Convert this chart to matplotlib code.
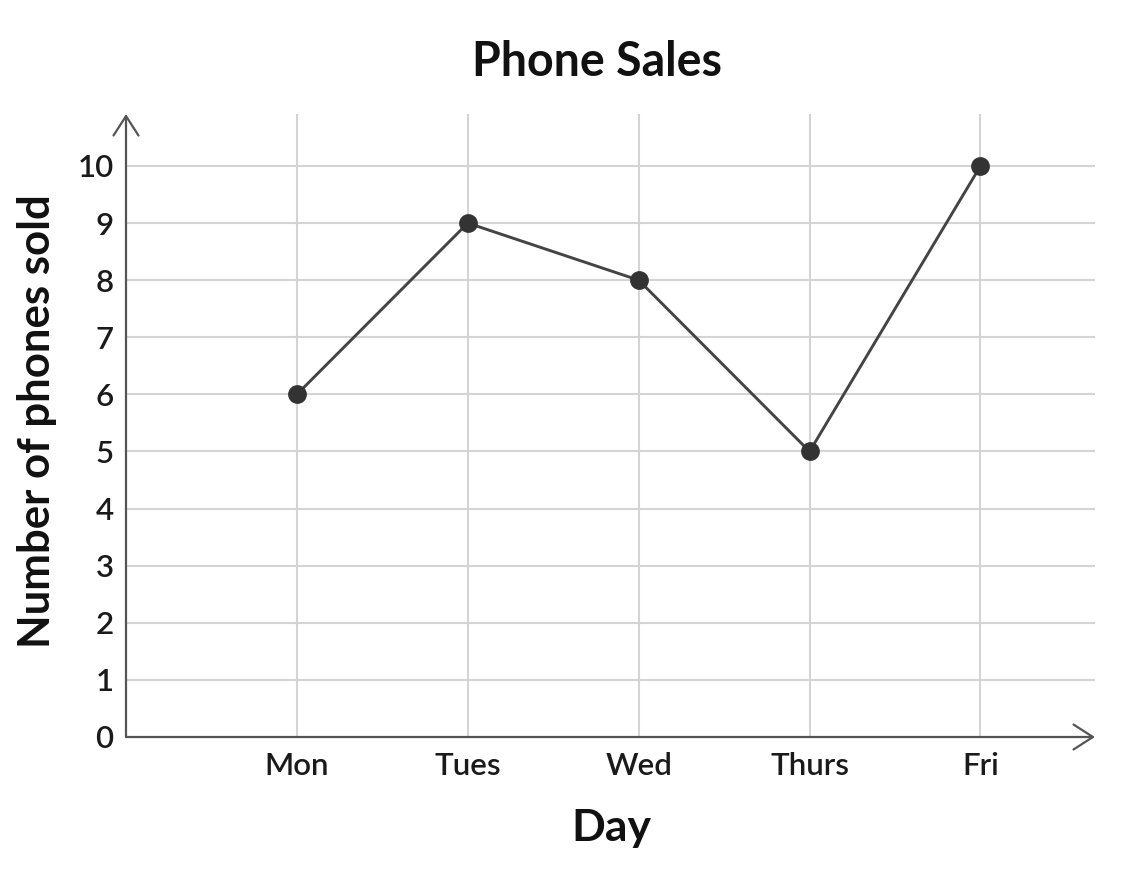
import matplotlib
matplotlib.use("Agg")
import matplotlib.pyplot as plt

days = ["Mon", "Tues", "Wed", "Thurs", "Fri"]
sales = [6, 9, 8, 5, 10]
y_ticks = list(range(0, 11))

plt.rcParams['font.family'] = ['Lato', 'DejaVu Sans']

fig = plt.figure(figsize=(11.44, 8.74), dpi=100)
W, H = 1144, 874
x0, x1 = 126, 1095
y0, y1 = 737, 114
ax = fig.add_axes([x0 / W, 1 - y0 / H, (x1 - x0) / W, (y0 - y1) / H])

xmax = 5.67
ymax = 10.91
ax.set_xlim(0, xmax)
ax.set_ylim(0, ymax)

xs = list(range(1, len(days) + 1))
grid_c = "#d4d4d4"
for y in y_ticks[1:]:
    ax.plot([0, xmax], [y, y], color=grid_c, lw=1.5, zorder=1, solid_capstyle='butt')
for x in xs:
    ax.plot([x, x], [0, ymax], color=grid_c, lw=1.5, zorder=1, solid_capstyle='butt')

ax.plot(xs, sales, color="#444444", lw=2.1, marker='o', markersize=12.5,
        markerfacecolor="#333333", markeredgecolor="#333333", zorder=3)

for s in ax.spines.values():
    s.set_visible(False)

axis_c = "#555555"
ax.annotate("", xy=(xmax, 0), xytext=(0, 0), xycoords='data',
            arrowprops=dict(arrowstyle='->,head_length=0.7,head_width=0.45',
                            color=axis_c, lw=1.6, mutation_scale=20, shrinkA=0, shrinkB=0),
            annotation_clip=False, zorder=4)
ax.annotate("", xy=(0, ymax), xytext=(0, 0), xycoords='data',
            arrowprops=dict(arrowstyle='->,head_length=0.7,head_width=0.45',
                            color=axis_c, lw=1.6, mutation_scale=20, shrinkA=0, shrinkB=0),
            annotation_clip=False, zorder=4)

ax.set_xticks(xs)
ax.set_xticklabels(days)
ax.set_yticks(y_ticks)
ax.set_yticklabels([str(v) for v in y_ticks])
ax.tick_params(axis='both', length=0, labelsize=22.5, colors="#1a1a1a")
ax.tick_params(axis='x', pad=11)
ax.tick_params(axis='y', pad=9)
for lbl in ax.get_xticklabels() + ax.get_yticklabels():
    lbl.set_fontweight('semibold')

fig.text(597 / W, 1 - 62 / H, "Phone Sales", ha='center', va='center',
         fontsize=33.5, fontweight='bold', color="#111111")
fig.text(611 / W, 1 - 828 / H, "Day", ha='center', va='center',
         fontsize=32, fontweight='bold', color="#111111")
fig.text(37 / W, 1 - 421 / H, "Number of phones sold", ha='center', va='center',
         rotation=90, fontsize=31.5, fontweight='bold', color="#111111")

fig.savefig("out.png", dpi=100, facecolor='white')
